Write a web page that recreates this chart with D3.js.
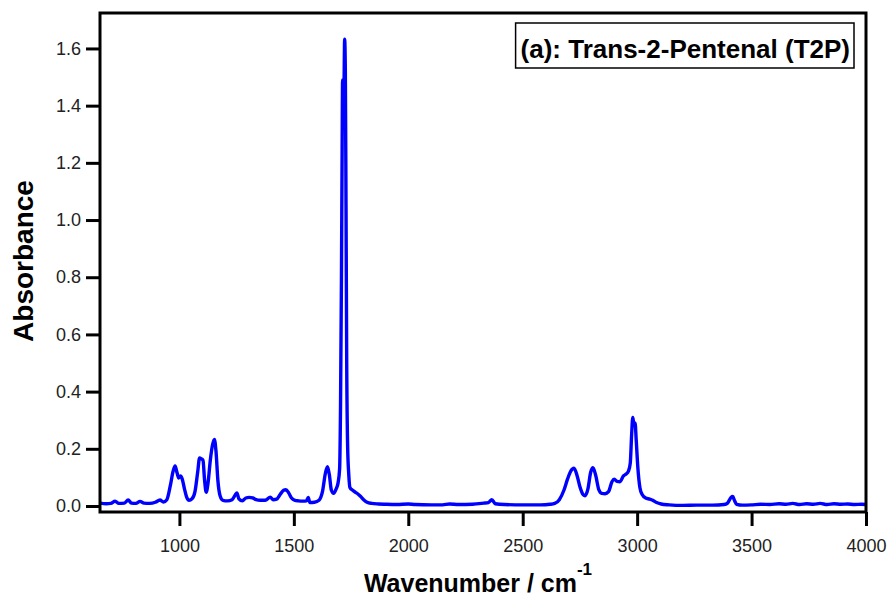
<!DOCTYPE html>
<html>
<head>
<meta charset="utf-8">
<script src="https://cdn.jsdelivr.net/npm/d3@7"></script>
<style>
  body { margin: 0; background: #fff; overflow: hidden; }
  svg { display: block; }
  text { font-family: "Liberation Sans", Arial, sans-serif; }
</style>
</head>
<body>
<div class="canvas"></div>
<script>
const wavenumber = [
  653, 680, 700, 719, 735, 760, 776, 790, 810, 828, 845, 870, 895, 915, 930, 945,
  960, 972, 981, 990, 997, 1005, 1012, 1022, 1032, 1042, 1055, 1068, 1080, 1088,
  1096, 1103, 1110, 1117, 1125, 1135, 1145, 1153, 1160, 1168, 1178, 1190, 1210,
  1230, 1245, 1251, 1260, 1275, 1290, 1305, 1320, 1335, 1353, 1375, 1397, 1410,
  1425, 1440, 1455, 1465, 1478, 1490, 1505, 1520, 1540, 1555, 1563, 1570, 1590,
  1610, 1625, 1638, 1647, 1655, 1664, 1674, 1685, 1693, 1700, 1704, 1708, 1711,
  1713, 1716, 1719, 1722, 1725, 1728, 1731, 1735, 1740, 1745, 1757, 1769, 1780,
  1791, 1805, 1820, 1840, 1870, 1900, 1950, 2000, 2030, 2100, 2150, 2180, 2220,
  2280, 2330, 2350, 2365, 2380, 2420, 2500, 2578, 2620, 2640, 2660, 2680, 2695,
  2710, 2724, 2738, 2750, 2762, 2772, 2785, 2797, 2807, 2818, 2833, 2845, 2860,
  2875, 2890, 2900, 2912, 2925, 2940, 2952, 2962, 2970, 2976, 2981, 2986, 2991,
  2996, 3003, 3012, 3022, 3037, 3055, 3068, 3085, 3105, 3140, 3200, 3260, 3330,
  3380, 3395, 3410, 3418, 3425, 3435, 3460, 3500, 3540, 3580, 3620, 3650, 3680,
  3710, 3740, 3770, 3800, 3830, 3860, 3890, 3920, 3950, 3980, 4000,
];

const absorbance = [
  0.010, 0.008, 0.009, 0.017, 0.009, 0.010, 0.021, 0.010, 0.009, 0.016, 0.010, 0.009, 0.013, 0.021, 0.014, 0.022,
  0.070, 0.120, 0.140, 0.115, 0.098, 0.105, 0.095, 0.060, 0.030, 0.020, 0.025, 0.050, 0.120, 0.168,
  0.165, 0.160, 0.090, 0.048, 0.080, 0.160, 0.215, 0.233, 0.190, 0.090, 0.035, 0.020, 0.018,
  0.022, 0.040, 0.046, 0.025, 0.018, 0.028, 0.030, 0.028, 0.022, 0.020, 0.020, 0.031, 0.022,
  0.024, 0.040, 0.055, 0.057, 0.045, 0.028, 0.020, 0.018, 0.017, 0.018, 0.030, 0.012, 0.013,
  0.020, 0.050, 0.115, 0.137, 0.110, 0.055, 0.044, 0.060, 0.080, 0.130, 0.350, 0.800, 1.250,
  1.490, 1.380, 1.450, 1.632, 1.520, 1.050, 0.500, 0.210, 0.110, 0.065, 0.055, 0.048, 0.042,
  0.034, 0.022, 0.013, 0.009, 0.007, 0.006, 0.005, 0.007, 0.005, 0.004, 0.004, 0.007, 0.005,
  0.006, 0.010, 0.012, 0.022, 0.008, 0.005, 0.004, 0.004, 0.006, 0.009, 0.022, 0.055, 0.092,
  0.122, 0.132, 0.105, 0.067, 0.042, 0.036, 0.060, 0.118, 0.134, 0.110, 0.056, 0.044, 0.043,
  0.050, 0.085, 0.094, 0.086, 0.085, 0.105, 0.112, 0.122, 0.150, 0.250, 0.310, 0.285, 0.290,
  0.230, 0.135, 0.065, 0.040, 0.028, 0.024, 0.020, 0.012, 0.007, 0.004, 0.002, 0.003, 0.003,
  0.005, 0.010, 0.030, 0.033, 0.020, 0.006, 0.003, 0.004, 0.006, 0.005, 0.008, 0.006, 0.009,
  0.005, 0.008, 0.006, 0.009, 0.005, 0.008, 0.006, 0.007, 0.005, 0.006, 0.005,
];

const xTicks = [1000, 1500, 2000, 2500, 3000, 3500, 4000];
const yTicks = [0, 0.2, 0.4, 0.6, 0.8, 1.0, 1.2, 1.4, 1.6];
const title = "(a): Trans-2-Pentenal (T2P)";

const width = 888;
const height = 598;
const margin = { top: 13, right: 22, bottom: 86, left: 100 };
const innerWidth = width - margin.left - margin.right;
const innerHeight = height - margin.top - margin.bottom;

const spectrum = wavenumber.map((w, i) => ({ w, a: absorbance[i] }));

const x = d3.scaleLinear().domain([653, 4000]).range([0, innerWidth]);
const y = d3.scaleLinear().domain([-0.021, 1.724]).range([innerHeight, 0]);

const svg = d3
  .select(".canvas")
  .append("svg")
  .attr("width", width)
  .attr("height", height);

const chart = svg
  .append("g")
  .attr("transform", `translate(${margin.left}, ${margin.top})`);

chart
  .append("clipPath")
  .attr("id", "clip")
  .append("rect")
  .attr("width", innerWidth)
  .attr("height", innerHeight);

const xAxis = d3
  .axisBottom(x)
  .tickValues(xTicks)
  .tickFormat(d3.format("d"))
  .tickSize(14)
  .tickPadding(13);

const yAxis = d3
  .axisLeft(y)
  .tickValues(yTicks)
  .tickFormat(d3.format(".1f"))
  .tickSize(14)
  .tickPadding(5);

const styleAxis = (g) => {
  g.attr("font-size", null).attr("font-family", null);
  g.select(".domain").remove();
  g.selectAll(".tick line").attr("stroke", "#000").attr("stroke-width", 3);
  g.selectAll(".tick text")
    .attr("fill", "#222")
    .style("font-size", "18px");
};

chart
  .append("g")
  .attr("transform", `translate(0, ${innerHeight})`)
  .call(xAxis)
  .call(styleAxis);

chart.append("g").call(yAxis).call(styleAxis);

const line = d3
  .line()
  .x((d) => x(d.w))
  .y((d) => y(d.a))
  .curve(d3.curveMonotoneX);

chart
  .append("path")
  .datum(spectrum)
  .attr("clip-path", "url(#clip)")
  .attr("fill", "none")
  .attr("stroke", "#0000ff")
  .attr("stroke-width", 3.4)
  .attr("stroke-linejoin", "round")
  .attr("d", line);

// plot frame
chart
  .append("rect")
  .attr("width", innerWidth)
  .attr("height", innerHeight)
  .attr("fill", "none")
  .attr("stroke", "#000")
  .attr("stroke-width", 3);

// title box
const titleBox = chart.append("rect");
const titleText = chart
  .append("text")
  .attr("x", innerWidth - 16)
  .attr("y", 45)
  .attr("text-anchor", "end")
  .style("font-size", "26px")
  .style("font-weight", "bold")
  .attr("fill", "#000")
  .text(title);

const bb = titleText.node().getBBox();
titleBox
  .attr("x", bb.x - 5)
  .attr("y", 10)
  .attr("width", bb.width + 9)
  .attr("height", 45)
  .attr("fill", "#fff")
  .attr("stroke", "#000")
  .attr("stroke-width", 1.5);

// axis labels
const xLabel = svg
  .append("text")
  .attr("x", 478)
  .attr("y", 592)
  .attr("text-anchor", "middle")
  .style("font-size", "25px")
  .style("font-weight", "bold");
xLabel.append("tspan").text("Wavenumber / cm");
xLabel
  .append("tspan")
  .attr("dy", -17)
  .style("font-size", "17px")
  .text("-1");

svg
  .append("text")
  .attr("transform", "translate(33, 261) rotate(-90)")
  .attr("text-anchor", "middle")
  .style("font-size", "28px")
  .style("font-weight", "bold")
  .text("Absorbance");
</script>
</body>
</html>
